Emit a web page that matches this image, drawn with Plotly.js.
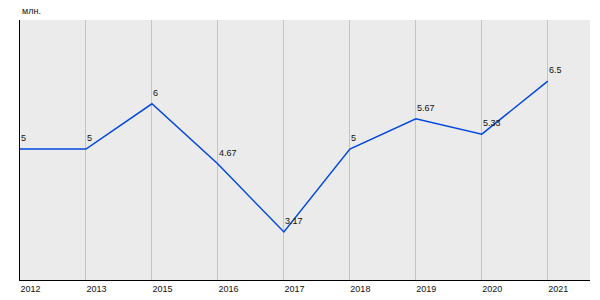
<!DOCTYPE html>
<html><head><meta charset="utf-8">
<script src="https://cdn.plot.ly/plotly-3.0.1.min.js"></script>
<style>body{margin:0}#c{width:600px;height:300px}</style>
</head><body><div id="c"></div>
<script>
const years = ['2012','2013','2015','2016','2017','2018','2019','2020','2021'];
const values = [5, 5, 6, 4.67, 3.17, 5, 5.67, 5.33, 6.5];
const labels = ['5','5','6','4.67','3.17','5','5.67','5.33','6.5'];

const trace = {
  x: years, y: values, type: 'scatter', mode: 'lines',
  line: {color: '#0048e0', width: 1.5},
  hoverinfo: 'none'
};
const annotations = years.map((yr, i) => ({
  x: i, y: values[i], text: labels[i], showarrow: false,
  xanchor: 'left', yanchor: 'bottom', xshift: -1, yshift: 4,
  font: {family: 'Liberation Sans, Arial', size: 9, color: '#111'}
}));
annotations.push({
  xref: 'paper', yref: 'paper', x: 0, y: 1, xanchor: 'left', yanchor: 'bottom',
  yshift: 2, text: 'млн.', showarrow: false,
  font: {family: 'Liberation Sans, Arial', size: 9, color: '#111'}
});
Plotly.newPlot('c', [trace], {
  width: 600, height: 300,
  margin: {l: 20, r: 10, t: 20, b: 20},
  paper_bgcolor: '#fff', plot_bgcolor: '#ebebeb',
  showlegend: false,
  xaxis: {
    type: 'category', range: [0, 8.64], showgrid: true, gridcolor: '#c4c4c4', gridwidth: 1,
    showline: true, linecolor: '#000', linewidth: 1, zeroline: false,
    ticks: '', ticklabelposition: 'outside right',
    tickfont: {family: 'Liberation Sans, Arial', size: 9, color: '#111'}
  },
  yaxis: {
    range: [2.11, 7.85], showgrid: false, showticklabels: false, zeroline: false,
    showline: true, linecolor: '#000', linewidth: 1, ticks: ''
  },
  annotations: annotations
}, {staticPlot: true});
</script></body></html>
